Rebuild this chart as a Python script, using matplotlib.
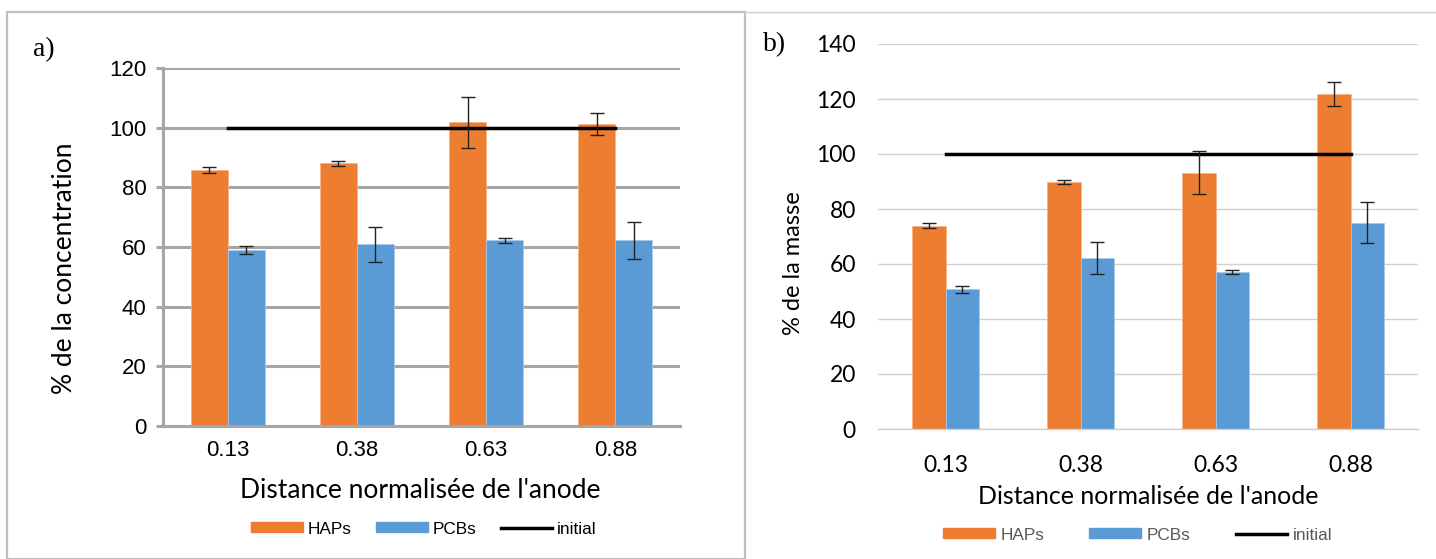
import numpy as np
import matplotlib
matplotlib.use("Agg")
import matplotlib.pyplot as plt
from matplotlib.patches import Rectangle
from matplotlib.lines import Line2D

# data
distances = ["0.13", "0.38", "0.63", "0.88"]
initial = [100, 100, 100, 100]

conc_haps = [85.8, 88.0, 101.8, 101.3]
conc_haps_err = [1.1, 0.8, 8.5, 3.6]
conc_pcbs = [58.9, 60.9, 62.2, 62.2]
conc_pcbs_err = [1.4, 5.8, 0.8, 6.3]

mass_haps = [73.9, 89.8, 93.2, 121.8]
mass_haps_err = [0.9, 0.85, 7.8, 4.4]
mass_pcbs = [50.8, 62.1, 57.0, 75.0]
mass_pcbs_err = [1.2, 5.8, 0.8, 7.5]

ORANGE = "#ED7D31"
BLUE = "#5B9BD5"
W, H = 1436, 559
CAL = ["Lato", "DejaVu Sans"]
ARIAL = ["Liberation Sans", "DejaVu Sans"]
SERIF = ["Liberation Serif", "DejaVu Serif"]


def px(x, y):
    return x / W, 1 - y / H


fig = plt.figure(figsize=(W / 100, H / 100), dpi=100)

# frame around panel a) and top line of panel b)
fig.add_artist(Rectangle(px(7, 559), 738 / W, 547 / H, transform=fig.transFigure,
                         fill=False, edgecolor="#bfbfbf", lw=1.6))
fig.add_artist(Line2D([745 / W, 1], [1 - 12 / H] * 2, transform=fig.transFigure,
                      color="#d0d0d0", lw=1.0))

x = np.arange(len(distances))

# ---- panel a) ----
axa = fig.add_axes([163 / W, 1 - 426 / H, 517 / W, 358 / H])
bw = 0.287
axa.bar(x - bw / 2, conc_haps, bw, color=ORANGE, edgecolor="#f6b38a", lw=0.6, zorder=2)
axa.bar(x + bw / 2, conc_pcbs, bw, color=BLUE, edgecolor="#a9c9ea", lw=0.6, zorder=2)
axa.errorbar(x - bw / 2, conc_haps, yerr=conc_haps_err, fmt="none", ecolor="#222222",
             elinewidth=1, capsize=5, capthick=1, zorder=4)
axa.errorbar(x + bw / 2, conc_pcbs, yerr=conc_pcbs_err, fmt="none", ecolor="#222222",
             elinewidth=1, capsize=5, capthick=1, zorder=4)
axa.plot(x, initial, color="black", lw=2.5, zorder=3)
axa.set_xlim(-0.5, 3.5)
axa.set_ylim(0, 120)
axa.set_yticks(range(0, 121, 20))
axa.set_xticks(x)
axa.set_xticklabels(distances)
axa.yaxis.grid(True, color="#a6a6a6", lw=2.2, zorder=0)
axa.set_axisbelow(True)
for s in ["top", "right"]:
    axa.spines[s].set_visible(False)
for s in ["left", "bottom"]:
    axa.spines[s].set_color("#a6a6a6")
    axa.spines[s].set_linewidth(2.2)
axa.tick_params(axis="y", length=5, width=2.2, color="#a6a6a6", pad=7)
axa.tick_params(axis="x", length=0, pad=10)
for t in axa.get_yticklabels() + axa.get_xticklabels():
    t.set_fontfamily(ARIAL)
    t.set_fontsize(16)
    t.set_color("black")

fig.text(*px(33, 50), "a)", fontfamily=SERIF, fontsize=20, va="center", ha="left")
fig.text(*px(64, 268), "% de la concentration", fontfamily=CAL, fontsize=19,
         rotation=90, ha="center", va="center")
fig.text(*px(420, 490), "Distance normalisée de l'anode", fontfamily=CAL, fontsize=19,
         ha="center", va="center")

# ---- panel b) ----
axb = fig.add_axes([878 / W, 1 - 429 / H, 540 / W, 385 / H])
bw = 0.25
axb.bar(x - bw / 2, mass_haps, bw, color=ORANGE, edgecolor="#f6b38a", lw=0.6, zorder=2)
axb.bar(x + bw / 2, mass_pcbs, bw, color=BLUE, edgecolor="#a9c9ea", lw=0.6, zorder=2)
axb.errorbar(x - bw / 2, mass_haps, yerr=mass_haps_err, fmt="none", ecolor="#222222",
             elinewidth=1, capsize=5, capthick=1, zorder=4)
axb.errorbar(x + bw / 2, mass_pcbs, yerr=mass_pcbs_err, fmt="none", ecolor="#222222",
             elinewidth=1, capsize=5, capthick=1, zorder=4)
axb.plot(x, initial, color="black", lw=2.5, zorder=3)
axb.set_xlim(-0.5, 3.5)
axb.set_ylim(0, 140)
axb.set_yticks(range(0, 141, 20))
axb.set_xticks(x)
axb.set_xticklabels(distances)
axb.yaxis.grid(True, color="#d0d0d0", lw=1.0, zorder=0)
axb.set_axisbelow(True)
for s in ["top", "right", "left"]:
    axb.spines[s].set_visible(False)
axb.spines["bottom"].set_color("#d0d0d0")
axb.spines["bottom"].set_linewidth(1.0)
axb.tick_params(axis="y", length=0, pad=16)
axb.tick_params(axis="x", length=0, pad=19)
for t in axb.get_yticklabels() + axb.get_xticklabels():
    t.set_fontfamily(CAL)
    t.set_fontsize(16.5)
    t.set_color("black")

fig.text(*px(763, 45), "b)", fontfamily=SERIF, fontsize=20, va="center", ha="left")
fig.text(*px(794, 263), "% de la masse", fontfamily=CAL, fontsize=17,
         rotation=90, ha="center", va="center")
fig.text(*px(1148, 497), "Distance normalisée de l'anode", fontfamily=CAL, fontsize=18,
         ha="center", va="center")

# legends
handles = [Rectangle((0, 0), 1, 1, color=ORANGE),
           Rectangle((0, 0), 1, 1, color=BLUE),
           Line2D([], [], color="black", lw=2.5)]
labels = ["HAPs", "PCBs", "initial"]
fig.legend(handles, labels, loc="center", bbox_to_anchor=px(424, 529), ncol=3,
           frameon=False, prop={"family": ARIAL, "size": 12.4}, handlelength=3.0,
           handleheight=0.5, handletextpad=0.3, columnspacing=1.4)
fig.legend(handles, labels, loc="center", bbox_to_anchor=px(1138, 535), ncol=3,
           frameon=False, prop={"family": ARIAL, "size": 12.4}, handlelength=3.0,
           handleheight=0.5, handletextpad=0.35, columnspacing=2.6, labelcolor="#595959")

fig.savefig("out.png", dpi=100)
